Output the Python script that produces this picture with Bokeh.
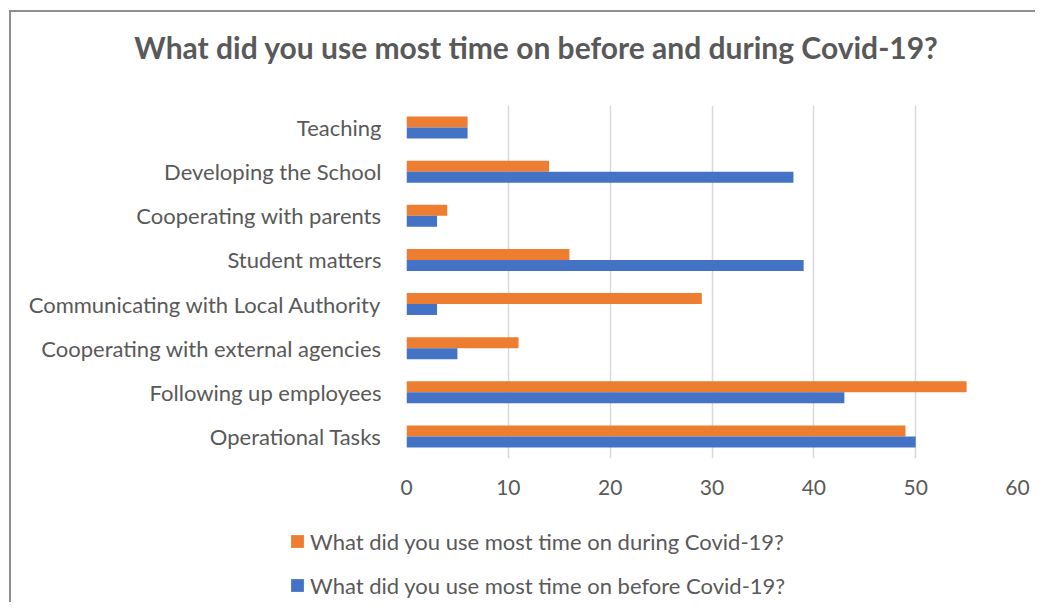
from bokeh.plotting import figure
from bokeh.models import ColumnDataSource, FactorRange, FixedTicker, Legend, LegendItem, Label
from bokeh.transform import dodge
from bokeh.embed import file_html
from bokeh.resources import INLINE

title_text = "What did you use most time on before and during Covid-19?"
categories = ["Teaching", "Developing the School", "Cooperating with parents",
              "Student matters", "Communicating with Local Authority",
              "Cooperating with external agencies", "Following up employees",
              "Operational Tasks"]
during = [6, 14, 4, 16, 29, 11, 55, 49]
before = [6, 38, 3, 39, 3, 5, 43, 50]
label_during = "What did you use most time on during Covid-19?"
label_before = "What did you use most time on before Covid-19?"
x_ticks = [0, 10, 20, 30, 40, 50, 60]

ORANGE = "#ED7D31"
BLUE = "#4472C4"
TEXT = "#595959"
FONT = "Lato"
EDGE = "2px solid #8e8e8e"
W = 1026


def strip(height):
    f = figure(width=W, height=height, output_backend="svg", toolbar_location=None,
               x_range=(0, W), y_range=(0, height), min_border=0, title=None)
    f.axis.visible = False
    f.grid.visible = False
    f.outline_line_color = None
    f.background_fill_color = "white"
    f.border_fill_color = "white"
    return f


src = ColumnDataSource(dict(cat=categories, during=during, before=before))

# title strip
head = strip(95)
head.styles = {"margin-left": "9px", "margin-top": "10px",
               "border-left": EDGE, "border-top": EDGE}
head.add_layout(Label(x=525, y=61, text=title_text, text_align="center",
                      text_baseline="alphabetic", text_font=FONT,
                      text_font_style="bold", text_font_size="30px",
                      text_color=TEXT))

# main chart
p = figure(width=W, height=417, output_backend="svg", toolbar_location=None,
           title=None, y_range=FactorRange(factors=categories[::-1]), x_range=(0, 60),
           min_border_left=395, min_border_right=20, min_border_top=0,
           min_border_bottom=64)
p.styles = {"margin-left": "9px", "border-left": EDGE}
p.outline_line_color = None
p.background_fill_color = "white"
p.border_fill_color = "white"

p.hbar(y=dodge("cat", 0.125, range=p.y_range), right="during", height=0.25,
       source=src, color=ORANGE, line_color=None)
p.hbar(y=dodge("cat", -0.125, range=p.y_range), right="before", height=0.25,
       source=src, color=BLUE, line_color=None)

p.xgrid.grid_line_color = "#d9d9d9"
p.xgrid.grid_line_width = 1.5
p.ygrid.grid_line_color = None
p.xaxis.ticker = FixedTicker(ticks=x_ticks)
for ax in (p.xaxis[0], p.yaxis[0]):
    ax.axis_line_color = None
    ax.major_tick_line_color = None
    ax.minor_tick_line_color = None
    ax.major_tick_out = 0
    ax.minor_tick_out = 0
    ax.major_label_text_color = TEXT
    ax.major_label_text_font = FONT
p.yaxis.major_label_text_font_size = "22px"
p.xaxis.major_label_text_font_size = "21px"
p.yaxis.major_label_standoff = 25
p.xaxis.major_label_standoff = 21

# legend strip: swatch renderers have zero width, so only the legend shows
leg = strip(80)
leg.styles = {"margin-left": "9px", "border-left": EDGE}
g_during = leg.hbar(y="during", left="during", right="during", height=0.25,
                    source=src, color=ORANGE, line_color=None)
g_before = leg.hbar(y="before", left="before", right="before", height=0.25,
                    source=src, color=BLUE, line_color=None)
legend = Legend(items=[LegendItem(label=label_during, renderers=[g_during]),
                       LegendItem(label=label_before, renderers=[g_before])],
                location=(278, 3), orientation="vertical",
                glyph_width=16, glyph_height=16, label_standoff=5,
                label_height=28, spacing=16, padding=0, margin=0,
                border_line_color=None, background_fill_alpha=0,
                label_text_font=FONT, label_text_font_size="22px",
                label_text_color=TEXT)
leg.add_layout(legend, "center")

open("out.html", "w").write(file_html([head, p, leg], INLINE))
